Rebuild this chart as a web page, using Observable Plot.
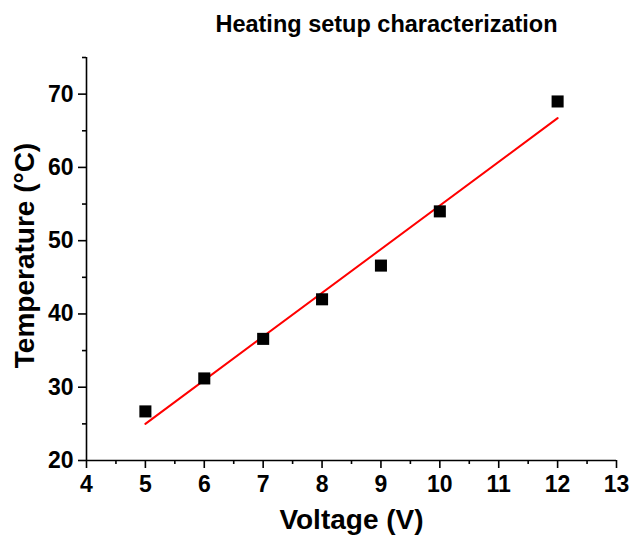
<!DOCTYPE html>
<html>
<head>
<meta charset="utf-8">
<script src="https://cdn.jsdelivr.net/npm/d3@7"></script>
<script src="https://cdn.jsdelivr.net/npm/@observablehq/plot@0.6"></script>
<style>
  html, body { margin: 0; padding: 0; background: #fff; }
  #chart svg { font-family: "Liberation Sans", Arial, sans-serif; font-weight: bold; }
</style>
</head>
<body>
<div id="chart"></div>
<script>
// Measured heater temperature at each supply voltage
const voltage = [5, 6, 7, 8, 9, 10, 12];
const temperature = [26.7, 31.2, 36.6, 42.0, 46.6, 54.0, 69.0];

// Axis ticks
const xTicks = [4, 5, 6, 7, 8, 9, 10, 11, 12, 13];
const xMinor = [4.5, 5.5, 6.5, 7.5, 8.5, 9.5, 10.5, 11.5, 12.5];
const yTicks = [20, 30, 40, 50, 60, 70];
const yMinor = [25, 35, 45, 55, 65, 75];

const title = "Heating setup characterization";
const xLabel = "Voltage (V)";
const yLabel = "Temperature (°C)";

const data = voltage.map((v, i) => ({voltage: v, temperature: temperature[i]}));

const chart = Plot.plot({
  width: 632,
  height: 537,
  marginTop: 57,
  marginRight: 16,
  marginBottom: 77,
  marginLeft: 86,
  x: {domain: [4, 13]},
  y: {domain: [20, 75]},
  marks: [
    // major and minor ticks, outward
    Plot.axisX({ticks: xTicks, tickSize: 8, tickPadding: 7, fontSize: 23, label: null, tickFormat: d => String(d)}),
    Plot.axisX({ticks: xMinor, tickSize: 4, label: null, text: null}),
    Plot.axisY({ticks: yTicks, tickSize: 8, tickPadding: 5, fontSize: 23, label: null, tickFormat: d => String(d)}),
    Plot.axisY({ticks: yMinor, tickSize: 4, label: null, text: null}),
    // axis lines
    Plot.ruleX([4], {stroke: "black", strokeWidth: 1.6}),
    Plot.ruleY([20], {stroke: "black", strokeWidth: 1.6}),
    // least-squares fit
    Plot.linearRegressionY(data, {x: "voltage", y: "temperature", stroke: "#ff0000", strokeWidth: 2, ci: 0}),
    // measurements
    Plot.dot(data, {x: "voltage", y: "temperature", symbol: "square", r: 6.8, fill: "black", stroke: "none"}),
    // titles
    Plot.text([title], {frameAnchor: "top", dx: 35, dy: -33, fontSize: 23.5, fontWeight: "bold", lineAnchor: "middle"}),
    Plot.text([xLabel], {frameAnchor: "bottom", dx: 0, dy: 60, fontSize: 28, fontWeight: "bold", lineAnchor: "middle"}),
    Plot.text([yLabel], {frameAnchor: "left", dx: -61, dy: -3.5, rotate: -90, fontSize: 28, fontWeight: "bold", textAnchor: "middle", lineAnchor: "middle"})
  ]
});

chart.querySelectorAll("[aria-label$='tick']").forEach(el => {
  el.setAttribute("stroke-width", "1.6");
});
document.getElementById("chart").appendChild(chart);
</script>
</body>
</html>
